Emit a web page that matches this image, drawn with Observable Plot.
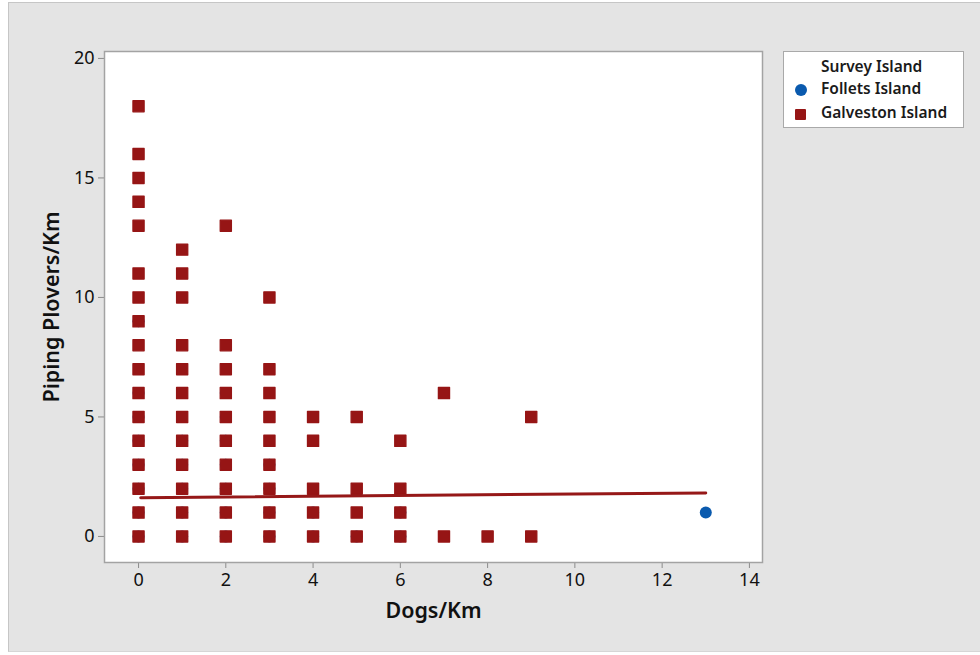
<!DOCTYPE html>
<html>
<head>
<meta charset="utf-8">
<script src="https://cdn.jsdelivr.net/npm/d3@7"></script>
<script src="https://cdn.jsdelivr.net/npm/@observablehq/plot@0.6"></script>
<style>
  html, body { margin: 0; padding: 0; background: #ffffff; width: 980px; height: 655px; overflow: hidden; }
  #bg { position: absolute; left: 8px; top: 2px; width: 972px; height: 650px; background: #e4e4e4;
        border-left: 1px solid #c6c6c6; border-top: 1px solid #c6c6c6; border-bottom: 1px solid #d6d6d6; box-sizing: border-box; }
  #chart { position: absolute; left: 0; top: 0; }
  #legend { position: absolute; left: 783px; top: 51px; width: 181px; height: 77px; background: #fff;
            border: 1px solid #a9a9a9; box-sizing: border-box; font-family: "Noto Sans", "Open Sans", sans-serif;
            font-size: 15.5px; font-weight: 600; color: #1a1a1a; }
  #legend .row { position: absolute; left: 37px; white-space: nowrap; line-height: 18px; }
  #legend .sym { position: absolute; }
</style>
</head>
<body>
<div id="bg"></div>
<div id="chart"></div>
<div id="legend"></div>
<script>
// ---- Data ----
const seriesNames = ["Follets Island", "Galveston Island"];
const legendTitle = "Survey Island";
const xLabel = "Dogs/Km";
const yLabel = "Piping Plovers/Km";
const xTicks = [0, 2, 4, 6, 8, 10, 12, 14];
const yTicks = [0, 5, 10, 15, 20];

// Follets Island (mostly hidden beneath Galveston squares)
const folletsX = [0,0,0,0,0,0,0,0, 1,1,1,1,1, 2,2,2,2,2,2,2, 3,3,3,3, 4,4, 5, 6,6, 13];
const folletsY = [0,1,2,3,4,5,6,9, 0,1,2,3,4, 0,1,2,3,4,5,6, 0,1,2,3, 0,1, 0, 0,1, 1];

// Galveston Island
const galvestonX = [
  0,0,0,0,0,0,0,0,0,0,0,0,0,0,0,0,0,
  1,1,1,1,1,1,1,1,1,1,1,1,
  2,2,2,2,2,2,2,2,2,2,
  3,3,3,3,3,3,3,3,3,
  4,4,4,4,4,
  5,5,5,5,
  6,6,6,6,
  7,7,
  8,
  9,9
];
const galvestonY = [
  18,16,15,14,13,11,10,9,8,7,6,5,4,3,2,1,0,
  12,11,10,8,7,6,5,4,3,2,1,0,
  13,8,7,6,5,4,3,2,1,0,
  10,7,6,5,4,3,2,1,0,
  5,4,2,1,0,
  5,2,1,0,
  4,2,1,0,
  6,0,
  0,
  5,0
];

// fitted line (endpoints)
const fitX = [0.05, 13];
const fitY = [1.62, 1.82];

const colors = ["#0a5aae", "#961515"];

const follets = folletsX.map((x, i) => ({x, y: folletsY[i]}));
const galveston = galvestonX.map((x, i) => ({x, y: galvestonY[i]}));
const fit = fitX.map((x, i) => ({x, y: fitY[i]}));

const font = '"Noto Sans", "Open Sans", sans-serif';

const chart = Plot.plot({
  width: 980,
  height: 655,
  marginLeft: 104,
  marginRight: 218,
  marginTop: 51,
  marginBottom: 93,
  style: { background: "transparent", fontFamily: font, color: "#1a1a1a" },
  x: { domain: [-0.78, 14.30] },
  y: { domain: [-1.09, 20.29] },
  marks: [
    Plot.frame({ fill: "#ffffff", stroke: null }),
    Plot.axisX({ ticks: xTicks, tickSize: 6, tickFormat: () => "", stroke: "#8c8c8c", label: null }),
    Plot.axisY({ ticks: yTicks, tickSize: 6, tickFormat: () => "", stroke: "#8c8c8c", label: null }),
    Plot.text(xTicks, { x: d => d, frameAnchor: "bottom", dy: 18, text: d => String(d), fontSize: 18, fill: "#111", lineAnchor: "middle" }),
    Plot.text(yTicks, { y: d => d, frameAnchor: "left", dx: -10, text: d => String(d), fontSize: 18, fill: "#111", textAnchor: "end" }),
    Plot.dot(follets, { x: "x", y: "y", r: 6, fill: colors[0], stroke: null, symbol: "circle" }),
    Plot.dot(galveston, { x: "x", y: "y", r: 6.3, fill: colors[1], stroke: colors[1], strokeWidth: 1.3, strokeLinejoin: "round", symbol: "square" }),
    Plot.line(fit, { x: "x", y: "y", stroke: "#961818", strokeWidth: 3 }),
    Plot.frame({ stroke: "#a3a3a3", strokeWidth: 1.5 }),
    Plot.text([xLabel], { frameAnchor: "bottom", dy: 55, text: d => d, fontSize: 21.5, fontWeight: 600, fill: "#111", textAnchor: "middle" }),
    Plot.text([yLabel], { frameAnchor: "left", dx: -52, rotate: -90, text: d => d, fontSize: 21.5, fontWeight: 600, fill: "#111", textAnchor: "middle" })
  ]
});
document.getElementById("chart").appendChild(chart);

// legend
const lg = document.getElementById("legend");
const rows = [legendTitle, ...seriesNames];
const rowTops = [5, 27, 51];
rows.forEach((t, i) => {
  const d = document.createElement("div");
  d.className = "row";
  d.style.top = rowTops[i] + "px";
  d.textContent = t;
  lg.appendChild(d);
});
const c = document.createElement("div");
c.className = "sym";
c.style.cssText = `left:11px; top:32px; width:12px; height:12px; border-radius:50%; background:${colors[0]};`;
lg.appendChild(c);
const s = document.createElement("div");
s.className = "sym";
s.style.cssText = `left:11px; top:57px; width:11px; height:11px; border-radius:1px; background:${colors[1]};`;
lg.appendChild(s);
</script>
</body>
</html>
